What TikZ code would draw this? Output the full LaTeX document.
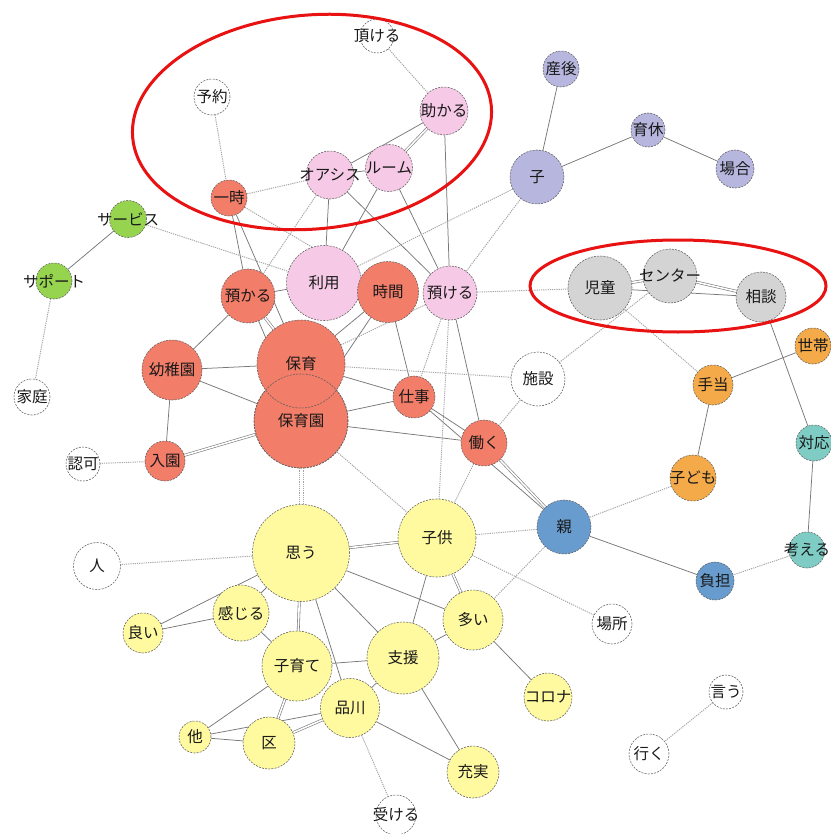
\documentclass[tikz,border=0pt]{standalone}
\usepackage{fontspec}
\newfontfamily\jp{Noto Sans CJK JP}
\usetikzlibrary{backgrounds}
\definecolor{cR}{RGB}{242,125,105}
\definecolor{cP}{RGB}{246,202,230}
\definecolor{cL}{RGB}{182,182,222}
\definecolor{cG}{RGB}{150,212,80}
\definecolor{cK}{RGB}{212,212,212}
\definecolor{cO}{RGB}{244,170,72}
\definecolor{cT}{RGB}{126,204,196}
\definecolor{cB}{RGB}{104,156,206}
\definecolor{cY}{RGB}{255,250,160}
\definecolor{ringred}{RGB}{232,18,18}
\definecolor{edgesolid}{RGB}{120,120,120}
\definecolor{edgedot}{RGB}{165,165,165}
\definecolor{nodeline}{RGB}{95,95,95}
\tikzset{
  nd/.style={circle, draw=nodeline, line width=0.55pt, dash pattern=on 2pt off 1.2pt, inner sep=0pt},
  every label/.style={font=\jp\fontsize{15.5}{17}\selectfont, text=black!90, inner sep=0pt},
  sl/.style={draw=edgesolid, line width=0.75pt},
  sd/.style={draw=edgesolid, line width=0.6pt, double=white, double distance=1.6pt},
  dt/.style={draw=edgedot, line width=0.95pt, dash pattern=on 1.2pt off 1pt},
  ring/.style={draw=ringred, line width=3pt}
}
\newcommand\nw[6]{\node[nd, fill=#5, minimum size=#4pt, label={center:#6}] (#1) at (#2,#3) {};}
\begin{document}
\begin{tikzpicture}[x=1pt,y=-1pt]
\useasboundingbox (0,0) rectangle (830,834);
% nodes
\nw{itadakeru}{377}{36}{34}{white}{頂ける}
\nw{yoyaku}{212}{97}{36}{white}{予約}
\nw{tasukaru}{444}{111}{48}{cP}{助かる}
\nw{oasis}{330}{175}{48}{cP}{オアシス}
\nw{room}{389}{168}{47}{cP}{ルーム}
\nw{ichiji}{229}{198}{36}{cR}{一時}
\nw{sango}{561}{69}{36}{cL}{産後}
\nw{ikukyu}{648}{130}{34}{cL}{育休}
\nw{ko}{537}{177}{54}{cL}{子}
\nw{baai}{735}{169}{38}{cL}{場合}
\nw{service}{128}{219}{37}{cG}{サービス}
\nw{support}{54}{281}{36}{cG}{サポート}
\nw{katei}{32}{397}{36}{white}{家庭}
\nw{riyou}{324}{283}{75}{cP}{利用}
\nw{jikan}{388}{292}{61}{cR}{時間}
\nw{azukaru}{248}{296}{54}{cR}{預かる}
\nw{azukeru}{450}{293}{54}{cP}{預ける}
\nw{jidou}{600}{288}{64}{cK}{児童}
\nw{center}{670}{276}{54}{cK}{センター}
\nw{soudan}{761}{297}{50}{cK}{相談}
\nw{setai}{813}{346}{36}{cO}{世帯}
\nw{teate}{713}{385}{40}{cO}{手当}
\nw{shisetsu}{538}{379}{54}{white}{施設}
\nw{hoikuen}{301}{421}{94}{cR}{保育園}
\nw{hoiku}{301}{364}{88}{cR}{保育}
\nw{youchien}{172}{370}{60}{cR}{幼稚園}
\nw{shigoto}{414}{397}{42}{cR}{仕事}
\nw{hataraku}{484}{443}{46}{cR}{働く}
\nw{nyuen}{165}{461}{40}{cR}{入園}
\nw{ninka}{83}{464}{34}{white}{認可}
\nw{taiou}{814}{443}{36}{cT}{対応}
\nw{kodomo}{693}{478}{46}{cO}{子ども}
\nw{oya}{564}{527}{54}{cB}{親}
\nw{kangaeru}{807}{550}{36}{cT}{考える}
\nw{futan}{715}{581}{38}{cB}{負担}
\nw{kodomoB}{437}{538}{78}{cY}{子供}
\nw{omou}{301}{553}{97}{cY}{思う}
\nw{hito}{97}{566}{47}{white}{人}
\nw{kanjiru}{241}{613}{56}{cY}{感じる}
\nw{yoi}{143}{633}{40}{cY}{良い}
\nw{ooi}{473}{620}{60}{cY}{多い}
\nw{basho}{612}{624}{40}{white}{場所}
\nw{kosodate}{297}{666}{70}{cY}{子育て}
\nw{shien}{403}{658}{72}{cY}{支援}
\nw{shinagawa}{350}{708}{59}{cY}{品川}
\nw{corona}{548}{697}{48}{cY}{コロナ}
\nw{hoka}{195}{737}{32}{cY}{他}
\nw{ku}{269}{743}{52}{cY}{区}
\nw{juujitsu}{473}{772}{52}{cY}{充実}
\nw{ukeru}{396}{815}{40}{white}{受ける}
\nw{iu}{726}{692}{34}{white}{言う}
\nw{iku}{649}{754}{40}{white}{行く}
% outline of 保育園 visible over 保育
\draw[nodeline, line width=0.55pt, dash pattern=on 2pt off 1.2pt] (hoikuen.center) circle (47pt);
% edges
\begin{pgfonlayer}{background}
\fill[white] (0,0) rectangle (830,834);
\foreach \a/\b in {tasukaru/oasis, tasukaru/azukeru, oasis/room, oasis/riyou, oasis/azukeru,
  room/riyou, room/azukeru, ichiji/azukaru, ichiji/hoiku, service/support, azukaru/riyou,
  azukaru/youchien, azukaru/hoikuen, jikan/hoiku, jikan/shigoto, jikan/hoikuen, azukeru/hataraku,
  jidou/soudan, soudan/taiou, setai/teate, teate/kodomo, taiou/kangaeru,
  oya/futan, shigoto/oya, hoiku/youchien, hoiku/shigoto, hoikuen/youchien, hoikuen/hataraku,
  hoikuen/shigoto, youchien/nyuen, shigoto/hataraku, omou/kanjiru, omou/yoi,
  omou/shinagawa, omou/shien, omou/ooi, kodomoB/shien, kanjiru/yoi, kanjiru/kosodate,
  kosodate/shien, kosodate/hoka, shinagawa/hoka, shinagawa/juujitsu, shinagawa/shien,
  hoka/ku, shien/juujitsu, ooi/corona, ko/sango, ko/ikukyu, ikukyu/baai, shien/ooi}
  \draw[sl] (\a) -- (\b);
\foreach \a/\b in {tasukaru/room, azukaru/hoiku, hoikuen/nyuen, oya/hataraku, jidou/center,
  center/soudan, omou/kodomoB, omou/kosodate, kodomoB/ooi, kosodate/ku, shinagawa/ku}
  \draw[sd] (\a) -- (\b);
\foreach \a/\b in {yoyaku/ichiji, itadakeru/tasukaru, oasis/ichiji, oasis/azukaru, ichiji/jikan,
  service/riyou, support/katei, azukeru/ko, riyou/ko, azukeru/jidou, azukeru/shigoto,
  azukeru/kodomoB, azukeru/hoiku, jidou/teate, center/shisetsu, kodomo/oya, kangaeru/futan,
  oya/kodomoB, oya/ooi, hoiku/shisetsu, hoikuen/kodomoB, nyuen/ninka, hataraku/kodomoB,
  shisetsu/hataraku, omou/hito, kodomoB/basho, shinagawa/ukeru, iu/iku}
  \draw[dt] (\a) -- (\b);
\draw[dt, transform canvas={xshift=-2pt}] (hoikuen) -- (omou);
\draw[dt, transform canvas={xshift=2pt}] (hoikuen) -- (omou);
\end{pgfonlayer}
% red rings
\draw[ring, rotate around={5:(312,122)}] (312,122) ellipse [x radius=180pt, y radius=107pt];
\draw[ring] (678,286) ellipse [x radius=148pt, y radius=46pt];
\end{tikzpicture}
\end{document}
